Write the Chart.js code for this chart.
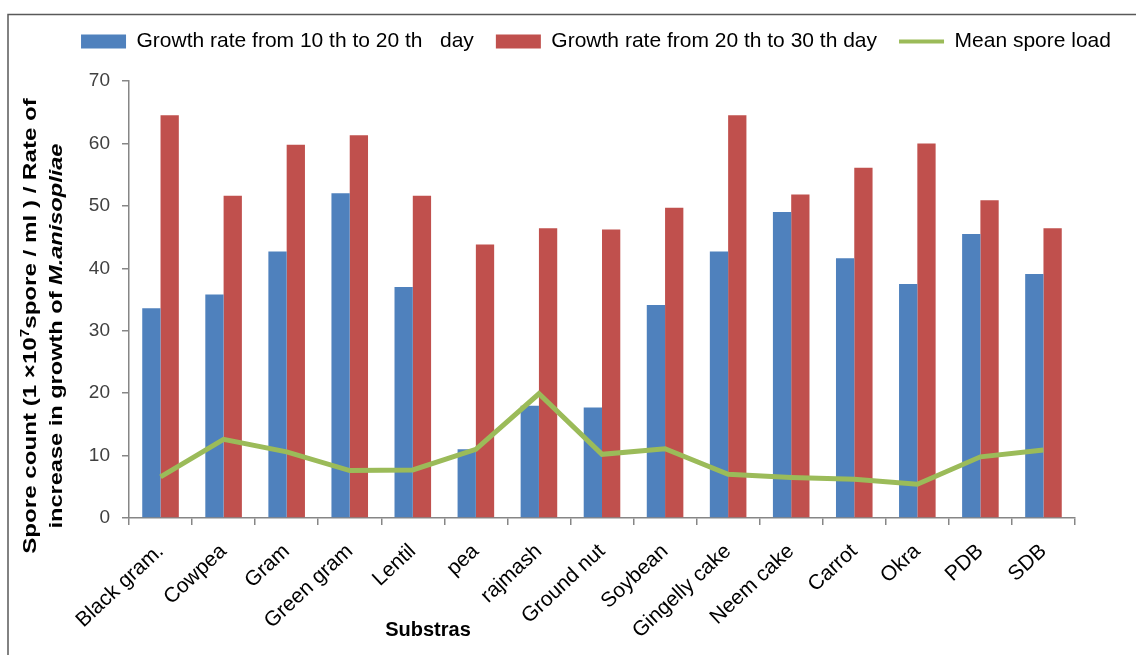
<!DOCTYPE html>
<html>
<head>
<meta charset="utf-8">
<script src="https://cdn.jsdelivr.net/npm/chart.js@4/dist/chart.umd.min.js"></script>
<style>
  html, body { margin: 0; padding: 0; background: #fff; }
  canvas { display: block; }
</style>
</head>
<body>
<canvas id="chart" width="1136" height="655"></canvas>
<script>
const substrates = ['Black gram.', 'Cowpea', 'Gram', 'Green gram', 'Lentil', 'pea', 'rajmash',
  'Ground nut', 'Soybean', 'Gingelly cake', 'Neem cake', 'Carrot', 'Okra', 'PDB', 'SDB']
const growth10to20 = [33.6, 35.8, 42.7, 52.0, 37.0, 11.0, 18.0, 17.7, 34.1, 42.7, 49.0, 41.6, 37.5, 45.5, 39.1]
const growth20to30 = [64.5, 51.6, 59.8, 61.3, 51.6, 43.8, 46.4, 46.2, 49.7, 64.5, 51.8, 56.1, 60.0, 50.9, 46.4]
const meanSporeLoad = [6.6, 12.6, 10.6, 7.6, 7.7, 11.0, 19.9, 10.2, 11.1, 7.0, 6.5, 6.2, 5.4, 9.8, 10.9]
const yTicks = [0, 10, 20, 30, 40, 50, 60, 70]

const BLUE = '#4F81BD'
const RED = '#C0504D'
const GREEN = '#9BBB59'

// frame + axis titles (the y title has a superscript and an italic species name)
const decorations = {
  id: 'decorations',
  beforeDraw(chart) {
    const ctx = chart.ctx
    ctx.save()
    ctx.strokeStyle = '#595959'
    ctx.lineWidth = 1.5
    ctx.beginPath()
    ctx.moveTo(8, 655)
    ctx.lineTo(8, 14.5)
    ctx.lineTo(1136, 14.5)
    ctx.stroke()
    ctx.restore()
  },
  afterDraw(chart) {
    const ctx = chart.ctx
    ctx.save()
    ctx.fillStyle = '#000'
    ctx.textBaseline = 'middle'

    // rotated run of text pieces, stretched along its length like the original
    function drawRun(parts, cx, cy, stretch) {
      let total = 0
      parts.forEach(p => { ctx.font = p.font; total += ctx.measureText(p.text).width })
      ctx.save()
      ctx.translate(cx, cy)
      ctx.rotate(-Math.PI / 2)
      ctx.scale(stretch, 1)
      let x = -total / 2
      parts.forEach(p => {
        ctx.font = p.font
        ctx.fillText(p.text, x, p.dy || 0)
        x += ctx.measureText(p.text).width
      })
      ctx.restore()
    }

    const b = 'bold 19px "Liberation Sans", Arial, sans-serif'
    const bs = 'bold 12px "Liberation Sans", Arial, sans-serif'
    const bi = 'italic bold 19px "Liberation Sans", Arial, sans-serif'
    drawRun([
      {text: 'Spore count (1 \u00d710', font: b},
      {text: '7', font: bs, dy: -5},
      {text: 'spore / ml ) / Rate of', font: b}
    ], 31, 326, 1.27)
    drawRun([
      {text: 'increase in growth of ', font: b},
      {text: 'M.anisopliae', font: bi}
    ], 57, 336, 1.24)

    ctx.font = 'bold 20px "Liberation Sans", Arial, sans-serif'
    ctx.textAlign = 'center'
    ctx.fillText('Substras', 428, 630)
    ctx.restore()
  }
}

const data = {
  labels: substrates,
  datasets: [
    {
      type: 'bar',
      label: 'Growth rate from 10 th to 20 th   day',
      data: growth10to20,
      backgroundColor: BLUE,
      borderWidth: 0,
      categoryPercentage: 0.58,
      barPercentage: 1,
      order: 1
    },
    {
      type: 'bar',
      label: 'Growth rate from 20 th to 30 th day',
      data: growth20to30,
      backgroundColor: RED,
      borderWidth: 0,
      categoryPercentage: 0.58,
      barPercentage: 1,
      order: 1
    },
    {
      type: 'line',
      label: 'Mean spore load',
      data: meanSporeLoad,
      borderColor: GREEN,
      backgroundColor: GREEN,
      borderWidth: 5,
      pointRadius: 0,
      tension: 0,
      fill: false,
      order: 0
    }
  ]
}

const options = {
  responsive: false,
  animation: false,
  layout: {
    padding: {left: 56, right: 0, top: 9, bottom: 0}
  },
  plugins: {
    tooltip: {enabled: false},
    legend: {
      position: 'top',
      labels: {
        usePointStyle: true,
        pointStyleWidth: 45,
        boxHeight: 14,
        padding: 22,
        color: '#000',
        font: {family: '"Liberation Sans", Arial, sans-serif', size: 21},
        sort: (a, b) => a.datasetIndex - b.datasetIndex,
        generateLabels(chart) {
          const items = Chart.defaults.plugins.legend.labels.generateLabels(chart)
          items.forEach(item => {
            const ds = chart.data.datasets[item.datasetIndex]
            if (ds.type === 'line') {
              item.pointStyle = 'line'
              item.lineWidth = 4
              item.strokeStyle = GREEN
            } else {
              item.pointStyle = 'rect'
              item.lineWidth = 0
            }
          })
          return items
        }
      }
    }
  },
  scales: {
    x: {
      offset: true,
      border: {color: '#868686', width: 1.5},
      grid: {offset: true, drawOnChartArea: false, color: '#868686', tickLength: 7, lineWidth: 1.5},
      ticks: {
        color: '#000',
        minRotation: 43,
        maxRotation: 43,
        autoSkip: false,
        padding: 14,
        font: {family: '"Liberation Sans", Arial, sans-serif', size: 21}
      },
      afterFit(scale) { scale.height = 137 }
    },
    // spacer between legend and plot
    xTop: {
      position: 'top',
      grid: {display: false},
      border: {display: false},
      ticks: {display: false},
      afterFit(scale) { scale.height = 19 }
    },
    y: {
      min: 0,
      max: 70,
      border: {color: '#868686', width: 1.5},
      grid: {drawOnChartArea: false, color: '#868686', tickLength: 7, lineWidth: 1.5},
      ticks: {
        stepSize: 10,
        color: '#404040',
        padding: 12,
        font: {family: '"Liberation Sans", Arial, sans-serif', size: 19},
        callback: (val) => yTicks.includes(val) ? String(val) : ''
      },
      afterFit(scale) { scale.width = 73 }
    },
    // spacer on the right of the plot
    yRight: {
      position: 'right',
      grid: {display: false},
      border: {display: false},
      ticks: {display: false},
      afterFit(scale) { scale.width = 61 }
    }
  }
}

new Chart(document.getElementById('chart'), {
  data: data,
  options: options,
  plugins: [decorations]
})
</script>
</body>
</html>
